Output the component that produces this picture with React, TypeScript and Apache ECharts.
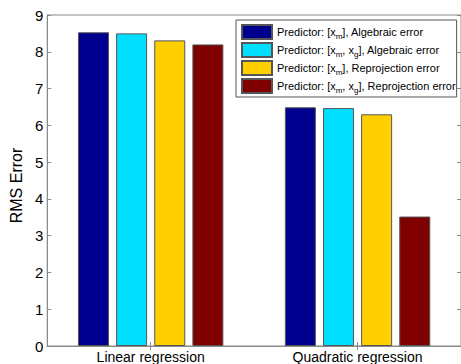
import React, { useEffect, useRef } from "react";
import * as echarts from "echarts";

const categories = ["Linear regression", "Quadratic regression"];
const seriesNames = [
  "Predictor: [xm], Algebraic error",
  "Predictor: [xm, xg], Algebraic error",
  "Predictor: [xm], Reprojection error",
  "Predictor: [xm, xg], Reprojection error",
];
const legendRich = [
  "{n|Predictor: [x}{s|m}{n|], Algebraic error}",
  "{n|Predictor: [x}{s|m}{n|, x}{s|g}{n|], Algebraic error}",
  "{n|Predictor: [x}{s|m}{n|], Reprojection error}",
  "{n|Predictor: [x}{s|m}{n|, x}{s|g}{n|], Reprojection error}",
];
const seriesColors = ["#00008F", "#00DFFF", "#FFCF00", "#800000"];
const algebraicXm = [8.53, 6.49];
const algebraicXmXg = [8.5, 6.47];
const reprojXm = [8.31, 6.3];
const reprojXmXg = [8.2, 3.52];
const yTicks = [0, 1, 2, 3, 4, 5, 6, 7, 8, 9];

const FONT = "'Liberation Sans', Arial, Helvetica, sans-serif";

export default function App() {
  const ref = useRef<HTMLDivElement>(null);
  useEffect(() => {
    if (!ref.current) return;
    const chart = echarts.init(ref.current, undefined, { renderer: "svg" });
    const values = [algebraicXm, algebraicXmXg, reprojXm, reprojXmXg];
    const axisColor = "#8a8a8a";
    chart.setOption({
      animation: false,
      backgroundColor: "#ffffff",
      textStyle: { fontFamily: FONT },
      grid: {
        left: 44,
        top: 15,
        width: 418,
        height: 331,
        show: true,
        borderColor: axisColor,
        borderWidth: 1,
        backgroundColor: "transparent",
      },
      legend: {
        orient: "vertical",
        left: 236,
        top: 20,
        padding: [4, 1, 3, 5],
        itemWidth: 30,
        itemHeight: 14,
        itemGap: 2,
        backgroundColor: "#ffffff",
        borderColor: "#555",
        borderWidth: 1,
        borderRadius: 0,
        icon: "rect",
        data: seriesNames,
        formatter: (name: string) => legendRich[seriesNames.indexOf(name)],
        textStyle: {
          fontFamily: FONT,
          color: "#000",
          rich: {
            n: { fontSize: 11, fontFamily: FONT, color: "#000", lineHeight: 12, verticalAlign: "top" },
            s: { fontSize: 8, fontFamily: FONT, color: "#000", lineHeight: 8, padding: [6, 0, 0, 0], verticalAlign: "top" },
          },
        },
      },
      xAxis: [
        {
          type: "category",
          data: categories,
          boundaryGap: true,
          axisLine: { show: true, lineStyle: { color: axisColor } },
          axisTick: { show: true, inside: true, alignWithLabel: true, length: 4, lineStyle: { color: axisColor } },
          axisLabel: { color: "#000", fontSize: 14, fontFamily: FONT, margin: 4 },
          splitLine: { show: false },
        },
        {
          type: "category",
          position: "top",
          data: categories,
          boundaryGap: true,
          axisLine: { show: true, lineStyle: { color: axisColor } },
          axisTick: { show: true, inside: true, alignWithLabel: true, length: 4, lineStyle: { color: axisColor } },
          axisLabel: { show: false },
        },
      ],
      yAxis: [
        {
          type: "value",
          min: 0,
          max: 9,
          interval: 1,
          name: "RMS Error",
          nameLocation: "middle",
          nameGap: 14,
          nameTextStyle: { color: "#000", fontSize: 16, fontFamily: FONT, padding: [0, 10, 0, 0] },
          axisLine: { show: true, lineStyle: { color: axisColor } },
          axisTick: { show: true, inside: true, length: 4, lineStyle: { color: axisColor } },
          axisLabel: {
            color: "#000",
            fontSize: 15,
            fontFamily: FONT,
            margin: 4,
            formatter: (v: number) => (yTicks.includes(v) ? String(v) : ""),
          },
          splitLine: { show: false },
        },
        {
          type: "value",
          position: "right",
          min: 0,
          max: 9,
          interval: 1,
          axisLine: { show: true, lineStyle: { color: axisColor } },
          axisTick: { show: true, inside: true, length: 4, lineStyle: { color: axisColor } },
          axisLabel: { show: false },
          splitLine: { show: false },
        },
      ],
      series: seriesNames.map((name, i) => ({
        name,
        type: "bar",
        data: values[i],
        barWidth: 31,
        barGap: "23%",
        itemStyle: { color: seriesColors[i], borderColor: "#555", borderWidth: 1 },
      })),
    });
    return () => chart.dispose();
  }, []);
  return (
    <div
      ref={ref}
      style={{ position: "fixed", left: 0, top: 0, width: 461, height: 364 }}
    />
  );
}
